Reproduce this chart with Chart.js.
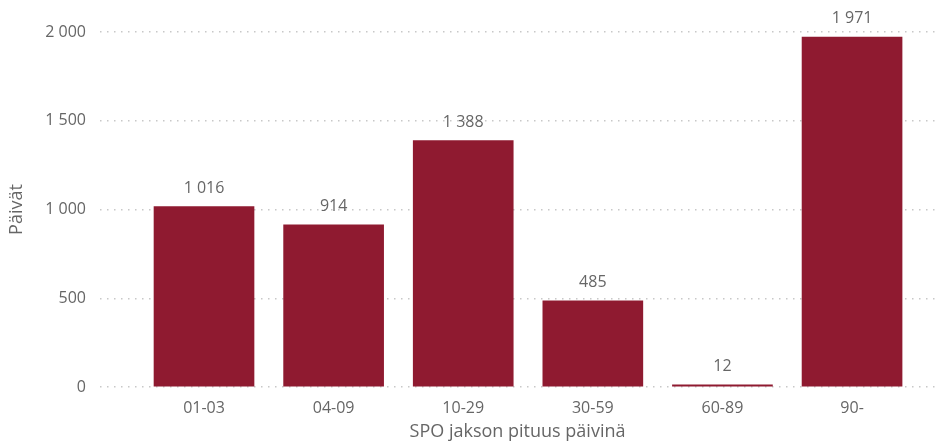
<!DOCTYPE html>
<html>
<head>
<meta charset="utf-8">
<script src="https://cdn.jsdelivr.net/npm/chart.js@4"></script>
<style>
  html, body { margin: 0; padding: 0; background: #ffffff; }
  #wrap { width: 946px; height: 443px; position: relative; }
</style>
</head>
<body>
<div id="wrap"><canvas id="c"></canvas></div>
<script>
const categories = ['01-03', '04-09', '10-29', '30-59', '60-89', '90-'];
const days = [1016, 914, 1388, 485, 12, 1971];
const yTicks = [0, 500, 1000, 1500, 2000];

const barColor = '#8F1A30';
const textColor = '#666666';
const fontFamily = "'Open Sans', sans-serif";

function fmt(v) {
  return String(v).replace(/\B(?=(\d{3})+(?!\d))/g, ' ');
}

const valueLabels = {
  id: 'valueLabels',
  afterDatasetsDraw(chart) {
    const ctx = chart.ctx;
    const meta = chart.getDatasetMeta(0);
    ctx.save();
    ctx.font = '16px ' + fontFamily;
    ctx.fillStyle = textColor;
    ctx.textAlign = 'center';
    ctx.textBaseline = 'alphabetic';
    meta.data.forEach((bar, i) => {
      ctx.fillText(fmt(days[i]), bar.x, bar.y - 14);
    });
    ctx.restore();
  }
};

new Chart(document.getElementById('c'), {
  type: 'bar',
  data: {
    datasets: [{
      data: days.map((v, i) => ({ x: i, y: v })),
      backgroundColor: barColor,
      borderWidth: 0,
      barThickness: 100
    }]
  },
  options: {
    responsive: true,
    maintainAspectRatio: false,
    animation: false,
    layout: { padding: { top: 32, right: 11, left: 0, bottom: 0 } },
    plugins: { legend: { display: false }, tooltip: { enabled: false } },
    scales: {
      x: {
        type: 'linear',
        offset: false,
        bounds: 'data',
        min: -0.8025,
        max: 5.64,
        grid: { display: false, drawTicks: false, offset: false },
        border: { display: false },
        afterBuildTicks: (scale) => { scale.ticks = categories.map((c, i) => ({ value: i })); },
        afterFit: (scale) => { scale.height = 56; },
        ticks: {
          autoSkip: false,
          maxRotation: 0,
          padding: 12,
          color: textColor,
          font: { family: fontFamily, size: 16 },
          callback: (v) => categories[v] ?? ''
        },
        title: {
          display: true,
          text: 'SPO jakson pituus päivinä',
          color: textColor,
          font: { family: fontFamily, size: 18 },
          padding: { top: 0, bottom: 0 }
        }
      },
      y: {
        min: 0,
        max: 2000,
        afterBuildTicks: (scale) => { scale.ticks = yTicks.map(v => ({ value: v })); },
        afterFit: (scale) => { scale.width = 100; },
        grid: { color: '#c8c8c8', lineWidth: 1.5, drawTicks: false },
        border: { display: false, dash: [1.5, 5.5] },
        ticks: {
          padding: 14,
          color: textColor,
          font: { family: fontFamily, size: 16 },
          callback: (v) => fmt(v)
        },
        title: {
          display: true,
          text: 'Päivät',
          color: textColor,
          font: { family: fontFamily, size: 18 },
          padding: { top: 6, bottom: 0 }
        }
      }
    }
  },
  plugins: [valueLabels]
});
</script>
</body>
</html>
